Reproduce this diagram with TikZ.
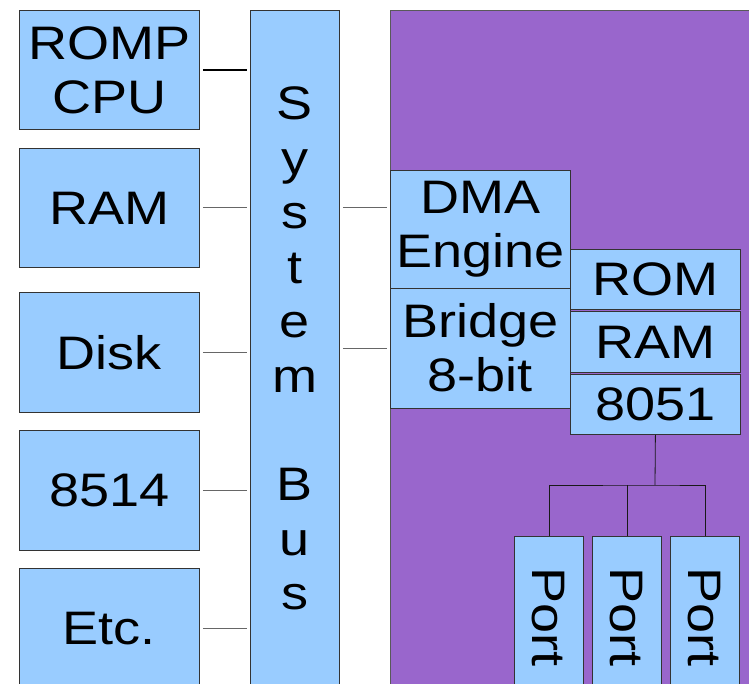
\documentclass[tikz,border=0pt]{standalone}
\usepackage{fontspec}
\setmainfont{Liberation Sans}[FakeStretch=1.15]
\usepackage{xcolor}
\definecolor{boxblue}{HTML}{99CCFF}
\definecolor{cardpurple}{HTML}{9966CC}
\tikzset{blk/.style={draw=black!80, fill=boxblue, line width=0.8pt, inner sep=0pt, anchor=north west, align=center, font=\fontsize{47}{54}\selectfont}}
\tikzset{card/.style={draw=black!65, fill=cardpurple, line width=0.8pt, inner sep=0pt, anchor=north west}}
\tikzset{link/.style={draw=black!60, line width=0.8pt, shorten <=3pt, shorten >=3pt}}
\tikzset{tree/.style={draw=black!90, line width=0.8pt}}
\newcommand{\busline}[3][]{\draw[link,#1] (#2) -- (#3);}

\begin{document}
\begin{tikzpicture}[x=1pt,y=-1pt]
\useasboundingbox (0,0) rectangle (749,684);
\node[card, minimum width=400pt, minimum height=700pt] (card) at (390,10) {};
\node[blk, minimum width=180pt, minimum height=119pt] (cpu) at (19,10) {ROMP\\CPU};
\node[blk, minimum width=180pt, minimum height=119pt] (ram) at (19,148) {RAM};
\node[blk, minimum width=180pt, minimum height=120pt] (disk) at (19,292) {Disk};
\node[blk, minimum width=180pt, minimum height=120pt] (ibm) at (19,430) {8514};
\node[blk, minimum width=180pt, minimum height=120pt] (etc) at (19,568) {Etc.};
\node[blk, minimum width=89pt, minimum height=676pt, font=\fontsize{47}{54.5}\selectfont] (bus) at (250,10) {S\\y\\s\\t\\e\\m\\[54pt]B\\u\\s};
\node[blk, minimum width=180pt, minimum height=118pt] (dma) at (390,170) {DMA\\Engine};
\node[blk, minimum width=180pt, minimum height=119.5pt] (bridge) at (390,288) {Bridge\\8-bit};
\node[blk, minimum width=170pt, minimum height=60pt] (rom) at (570,249) {ROM};
\node[blk, minimum width=170pt, minimum height=60pt] (sram) at (570,311.5) {RAM};
\node[blk, minimum width=170pt, minimum height=60pt] (mcu) at (570,374) {8051};
\node[blk, minimum width=69pt, minimum height=162pt] (portA) at (514,536) {\rotatebox{-90}{Port}};
\node[blk, minimum width=69pt, minimum height=162pt] (portB) at (592,536) {\rotatebox{-90}{Port}};
\node[blk, minimum width=69pt, minimum height=162pt] (portC) at (670,536) {\rotatebox{-90}{Port}};
\busline[draw=black, line width=1.5pt]{cpu.east}{cpu.east -| bus.west}
\busline{ram.east}{ram.east -| bus.west}
\busline{disk.east}{disk.east -| bus.west}
\busline{ibm.east}{ibm.east -| bus.west}
\busline{etc.east}{etc.east -| bus.west}
\busline{bus.east |- ram}{dma.west |- ram}
\busline{bus.east |- bridge}{bridge.west}
\coordinate (split) at (655,485);
\draw[tree] (mcu.south) -- (split);
\draw[tree] (portA.north) |- (split) -| (portC.north);
\draw[tree] (portB.north) -- (portB.north |- split);
\end{tikzpicture}
\end{document}
